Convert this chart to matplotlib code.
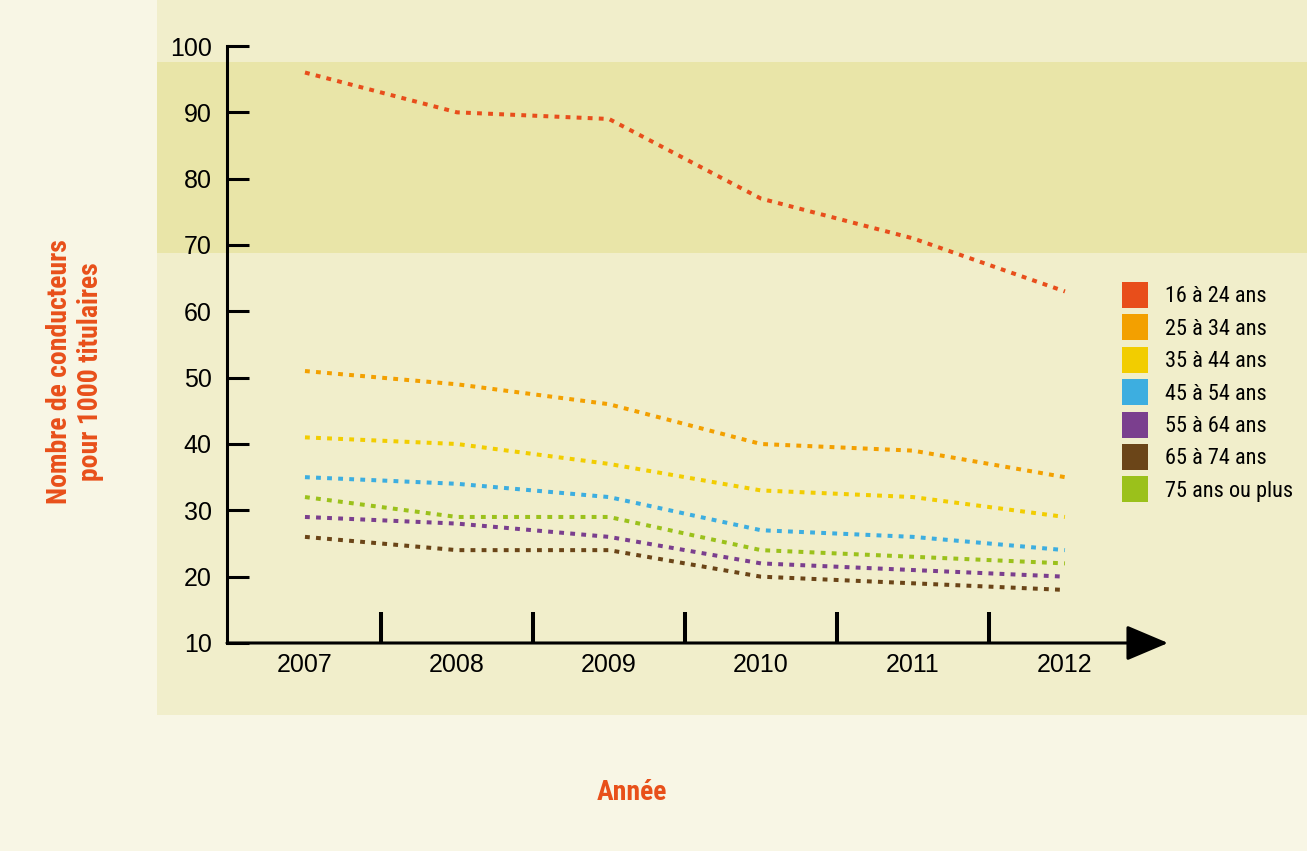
import numpy as np
import matplotlib
matplotlib.use("Agg")
import matplotlib.pyplot as plt
import matplotlib.transforms as mtransforms
from matplotlib import font_manager
from matplotlib.patches import Patch, Rectangle

# data (drivers per 1000 licence holders)
years = [2007, 2008, 2009, 2010, 2011, 2012]
age_groups = ["16 à 24 ans", "25 à 34 ans", "35 à 44 ans", "45 à 54 ans",
              "55 à 64 ans", "65 à 74 ans", "75 ans ou plus"]
v_16_24 = [96, 90, 89, 77, 71, 63]
v_25_34 = [51, 49, 46, 40, 39, 35]
v_35_44 = [41, 40, 37, 33, 32, 29]
v_45_54 = [35, 34, 32, 27, 26, 24]
v_55_64 = [29, 28, 26, 22, 21, 20]
v_65_74 = [26, 24, 24, 20, 19, 18]
v_75_plus = [32, 29, 29, 24, 23, 22]
series = [v_16_24, v_25_34, v_35_44, v_45_54, v_55_64, v_65_74, v_75_plus]
colors = ["#e84e1b", "#f3a000", "#f2cd00", "#3daee0", "#7b3f8e", "#6b4518", "#9bc11b"]
band = (68.8, 97.6)  # shaded zone

W, H = 1307, 851
orange = "#e8501a"

# look for a condensed face, otherwise plain Liberation Sans at a smaller size
installed = {f.name for f in font_manager.fontManager.ttflist}
narrow_name = None
for cand in ["Liberation Sans Narrow", "Roboto Condensed", "Open Sans Condensed",
             "DejaVu Sans Condensed"]:
    if cand in installed:
        narrow_name = cand
        break
if narrow_name and narrow_name != "DejaVu Sans Condensed":
    narrow = [narrow_name, "DejaVu Sans"]
    leg_size, lab_size = 16, 20
else:
    narrow = ["Liberation Sans", "DejaVu Sans"]
    leg_size, lab_size = 13.5, 17

plt.rcParams["font.family"] = ["Liberation Sans", "DejaVu Sans"]

fig = plt.figure(figsize=(W / 100, H / 100), dpi=100, facecolor="#f8f6e5")

# inner panel
fig.patches.append(Rectangle((157 / W, 1 - 715 / H), 1 - 157 / W, 715 / H,
                             transform=fig.transFigure, facecolor="#f1eecb",
                             edgecolor="none", zorder=-2))

ax = fig.add_axes([227 / W, 1 - 643 / H, 941 / W, 597 / H])
ax.set_facecolor("none")
ax.set_xlim(2006.487, 2012.678)
ax.set_ylim(10, 100)

# shaded band across the whole panel
trans = mtransforms.blended_transform_factory(fig.transFigure, ax.transData)
ax.add_patch(Rectangle((157 / W, band[0]), 1 - 157 / W, band[1] - band[0],
                       transform=trans, facecolor="#e9e5a8", edgecolor="none",
                       clip_on=False, zorder=0))

for vals, c, lab in zip(series, colors, age_groups):
    ax.plot(years, vals, color=c, lw=2.9, linestyle=(0, (1.2, 1.55)),
            dash_capstyle="butt", label=lab, zorder=3)

# axes styling
for s in ["top", "right", "bottom"]:
    ax.spines[s].set_visible(False)
ax.spines["left"].set_linewidth(2.2)
ax.set_yticks(range(10, 101, 10))
ax.tick_params(axis="y", direction="in", length=16, width=2.2, pad=11,
               labelsize=18, colors="black")
ax.set_xticks(years)
ax.set_xticks([y + 0.5 for y in years[:-1]], minor=True)
ax.tick_params(axis="x", which="major", length=0, pad=7, labelsize=18)
ax.tick_params(axis="x", which="minor", direction="in", length=22, width=2.9)

ax.annotate("", xy=(1, 0), xytext=(0, 0), xycoords="axes fraction",
            arrowprops=dict(arrowstyle="-|>,head_length=2.6,head_width=1.1",
                            lw=2.2, color="black", shrinkA=0, shrinkB=0,
                            mutation_scale=10), zorder=4)

handles = [Patch(facecolor=c, edgecolor="none") for c in colors]
fig.legend(handles, age_groups, loc="upper left",
           bbox_to_anchor=(1122 / W, 1 - 282 / H), frameon=False,
           borderpad=0, borderaxespad=0, handlelength=26 / (leg_size * 1.389),
           handleheight=1.42 * 16 / leg_size,
           handletextpad=17 / (leg_size * 1.389), labelspacing=0.29 * 16 / leg_size,
           prop={"family": narrow, "size": leg_size})

fig.text(75 / W, 1 - 372 / H, "Nombre de conducteurs\npour 1000 titulaires",
         rotation=90, ha="center", va="center", multialignment="center",
         color=orange, fontsize=lab_size, fontweight="bold", family=narrow,
         linespacing=1.15)
fig.text(632 / W, 1 - 792 / H, "Année", ha="center", va="center",
         color=orange, fontsize=lab_size, fontweight="bold", family=narrow)

fig.savefig("out.png", dpi=100, facecolor=fig.get_facecolor())
